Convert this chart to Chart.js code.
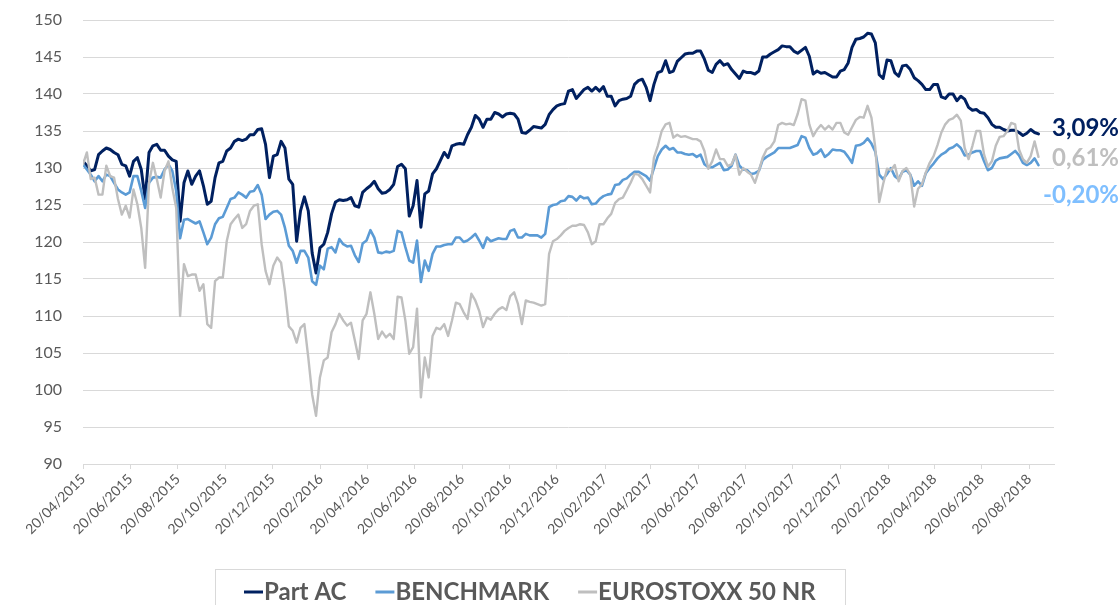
<!DOCTYPE html>
<html>
<head>
<meta charset="utf-8">
<script src="https://cdn.jsdelivr.net/npm/chart.js@4.4.1/dist/chart.umd.min.js"></script>
<style>
  html, body { margin: 0; padding: 0; background: #ffffff; }
  #wrap { width: 1120px; height: 605px; position: relative; overflow: hidden; }
</style>
</head>
<body>
<div id="wrap"><canvas id="c" width="1120" height="605"></canvas></div>
<script>
// ---- data (one value every 5 days, starting 20/04/2015) ----
const startDate = '20/04/2015';
const stepDays = 5;

const seriesNames = ['Part AC', 'BENCHMARK', 'EUROSTOXX 50 NR'];

const partAC = [
  130.9, 130.3, 129.6, 129.8, 131.8, 132.3, 132.7, 132.5, 132.1, 131.8,
  130.5, 130.3, 128.9, 130.9, 131.4, 129.8, 125.8, 132.1, 133.0, 133.2,
  132.4, 132.4, 131.6, 131.1, 130.9, 122.8, 128.0, 129.6, 127.8, 128.9,
  129.6, 127.6, 125.1, 125.5, 128.7, 130.7, 130.9, 132.3, 132.7, 133.6,
  133.9, 133.7, 133.9, 134.5, 134.5, 135.2, 135.3, 133.2, 128.7, 131.6,
  131.8, 133.6, 132.7, 128.5, 127.8, 120.1, 124.2, 126.1, 124.2, 118.5,
  115.8, 119.2, 119.7, 121.3, 123.8, 125.4, 125.7, 125.6, 125.7, 126.0,
  124.9, 124.7, 126.7, 127.2, 127.6, 128.2, 127.2, 126.6, 126.7, 127.1,
  127.8, 130.2, 130.5, 129.9, 123.5, 124.9, 128.3, 122.0, 126.5, 126.9,
  129.2, 129.9, 131.0, 132.1, 131.4, 133.0, 133.2, 133.3, 133.2, 134.5,
  135.5, 137.1, 136.6, 135.5, 136.6, 136.6, 137.5, 137.3, 136.9, 137.3,
  137.4, 137.3, 136.6, 134.8, 134.7, 135.1, 135.6, 135.5, 135.4, 135.9,
  137.2, 137.9, 138.4, 138.6, 138.7, 140.4, 140.6, 139.4, 140.0, 140.6,
  140.9, 140.4, 140.9, 140.4, 141.0, 139.7, 139.7, 138.4, 139.1, 139.3,
  139.4, 139.7, 141.3, 141.8, 142.0, 140.9, 139.1, 141.3, 142.9, 143.1,
  144.5, 142.9, 143.1, 144.4, 144.9, 145.4, 145.5, 145.5, 145.8, 145.8,
  144.7, 143.2, 142.9, 144.0, 144.5, 143.9, 144.1, 143.3, 142.7, 142.1,
  143.1, 142.9, 142.9, 142.7, 143.1, 145.0, 145.0, 145.4, 145.7, 146.0,
  146.5, 146.4, 146.4, 145.8, 145.5, 145.9, 146.3, 145.1, 142.7, 143.1,
  142.8, 142.9, 142.6, 142.3, 142.3, 143.1, 143.3, 144.2, 146.3, 147.4,
  147.5, 147.7, 148.2, 148.1, 146.9, 142.6, 142.1, 144.6, 144.5, 142.9,
  142.4, 143.8, 143.9, 143.3, 142.2, 141.8, 141.3, 140.6, 140.6, 141.3,
  141.3, 139.6, 139.4, 140.0, 140.0, 139.1, 139.7, 139.3, 138.2, 137.8,
  137.9, 137.5, 137.4, 136.8, 135.9, 135.5, 135.5, 135.2, 135.0, 135.1,
  135.1, 134.8, 134.4, 134.7, 135.2, 134.8, 134.6
];

const benchmark = [
  130.5, 129.8, 129.1, 128.2, 128.9, 128.2, 129.1, 128.9, 128.0, 127.1,
  126.7, 126.4, 126.7, 128.9, 128.9, 126.9, 124.6, 128.0, 128.7, 128.8,
  128.7, 129.8, 130.5, 129.6, 126.9, 120.5, 123.0, 123.1, 122.8, 122.5,
  122.8, 121.3, 119.7, 120.6, 122.4, 123.2, 123.4, 124.6, 125.8, 126.0,
  126.7, 126.4, 126.0, 126.8, 126.9, 127.7, 126.4, 123.1, 123.7, 124.1,
  124.2, 123.7, 121.9, 119.5, 118.8, 117.2, 118.8, 118.8, 117.9, 114.7,
  114.2, 116.8, 116.3, 119.1, 119.3, 118.6, 120.4, 119.7, 119.4, 119.5,
  118.2, 117.3, 119.8, 120.2, 121.6, 120.6, 118.6, 118.5, 118.7, 118.6,
  118.8, 121.5, 121.3, 119.3, 117.5, 117.2, 120.2, 114.6, 117.5, 116.1,
  118.4, 119.4, 119.4, 119.6, 119.7, 119.7, 120.6, 120.6, 120.0, 120.2,
  120.6, 121.1, 120.2, 119.2, 120.6, 120.1, 120.3, 120.5, 120.4, 120.4,
  121.5, 121.7, 120.6, 120.6, 121.1, 120.9, 120.9, 120.9, 120.6, 121.1,
  124.7, 125.0, 125.1, 125.5, 125.6, 126.2, 126.1, 125.6, 126.2, 125.9,
  126.0, 125.1, 125.2, 125.8, 126.2, 126.4, 126.5, 127.7, 127.8, 128.4,
  128.6, 129.1, 129.5, 129.5, 129.2, 128.9, 128.3, 130.0, 131.6, 132.5,
  133.0, 132.5, 132.7, 132.1, 132.1, 131.9, 131.8, 131.9, 131.5, 131.8,
  130.5, 130.1, 130.1, 130.4, 130.7, 129.7, 129.8, 130.3, 131.8, 130.3,
  129.8, 129.7, 129.2, 129.3, 129.6, 131.1, 131.5, 131.8, 132.1, 132.7,
  132.7, 132.7, 132.7, 132.9, 133.1, 134.3, 134.1, 132.7, 131.8, 132.0,
  132.5, 131.5, 131.9, 132.5, 132.4, 132.4, 132.2, 131.5, 130.7, 133.0,
  133.1, 133.4, 134.0, 133.3, 132.2, 129.1, 128.5, 129.2, 130.0, 128.9,
  128.5, 129.5, 129.7, 129.1, 127.6, 128.2, 127.6, 129.3, 130.0, 130.6,
  131.3, 131.8, 132.1, 132.6, 132.8, 133.2, 132.7, 131.7, 131.8, 132.1,
  132.3, 132.3, 130.9, 129.7, 130.0, 131.0, 131.3, 131.4, 131.5, 131.9,
  132.3, 131.7, 130.7, 130.4, 130.7, 131.3, 130.4
];

const eurostoxx = [
  130.5, 132.1, 128.5, 128.7, 126.4, 126.4, 130.3, 128.9, 128.7, 125.8,
  123.7, 124.9, 123.3, 127.1, 125.1, 121.9, 116.5, 128.0, 130.7, 128.5,
  126.0, 129.6, 130.9, 127.3, 124.6, 110.0, 117.0, 115.4, 115.6, 115.6,
  113.4, 114.3, 108.9, 108.4, 114.7, 115.2, 115.2, 120.1, 122.4, 123.1,
  123.7, 121.9, 122.4, 124.2, 124.9, 125.1, 119.7, 116.1, 114.3, 116.8,
  117.9, 117.2, 113.4, 108.6, 108.0, 106.4, 108.4, 108.9, 104.4, 99.4,
  96.5, 101.7, 104.0, 104.4, 107.8, 108.9, 110.3, 109.4, 108.7, 109.1,
  106.7, 104.2, 109.4, 110.3, 113.2, 110.3, 106.9, 107.9, 107.1, 107.6,
  106.9, 112.6, 112.5, 109.4, 104.9, 105.8, 111.0, 99.0, 104.4, 101.7,
  107.3, 108.4, 108.2, 108.9, 107.3, 109.4, 111.8, 111.6, 110.5, 109.6,
  113.0, 112.1, 110.7, 108.5, 109.8, 109.5, 110.3, 110.9, 111.2, 110.8,
  112.7, 113.2, 111.6, 108.9, 112.1, 111.9, 111.8, 111.6, 111.4, 111.6,
  118.4, 120.1, 120.4, 120.9, 121.5, 121.9, 122.2, 122.2, 122.4, 122.3,
  121.3, 119.7, 120.1, 122.4, 122.4, 123.2, 123.8, 125.3, 125.8, 126.0,
  127.0, 128.0, 129.2, 129.1, 128.5, 127.6, 126.7, 131.4, 133.0, 135.0,
  135.9, 136.1, 134.1, 134.5, 134.2, 134.3, 134.1, 133.9, 133.9, 133.6,
  132.3, 129.9, 130.9, 132.5, 131.2, 131.2, 130.3, 130.5, 131.8, 129.1,
  130.0, 129.5, 129.1, 128.0, 129.6, 131.4, 132.5, 132.8, 133.6, 135.8,
  136.1, 135.9, 136.0, 135.8, 137.3, 139.3, 139.1, 135.9, 134.3, 135.2,
  135.8, 135.2, 135.7, 135.2, 136.1, 136.1, 134.8, 134.5, 135.5, 136.5,
  136.9, 136.8, 138.4, 136.8, 132.7, 125.4, 127.8, 129.9, 129.7, 130.4,
  128.2, 129.6, 130.0, 129.1, 124.8, 127.2, 127.8, 129.4, 130.7, 131.6,
  133.1, 134.8, 135.9, 136.5, 136.7, 137.2, 136.4, 132.7, 131.2, 133.0,
  135.0, 135.0, 131.8, 130.2, 130.9, 133.0, 134.2, 134.3, 135.0, 136.1,
  135.9, 132.5, 131.2, 130.7, 131.6, 133.6, 131.5
];

const endLabels = ['3,09%', '-0,20%', '0,61%'];

const xTickLabels = [
  '20/04/2015', '20/06/2015', '20/08/2015', '20/10/2015', '20/12/2015',
  '20/02/2016', '20/04/2016', '20/06/2016', '20/08/2016', '20/10/2016',
  '20/12/2016', '20/02/2017', '20/04/2017', '20/06/2017', '20/08/2017',
  '20/10/2017', '20/12/2017', '20/02/2018', '20/04/2018', '20/06/2018',
  '20/08/2018'
];
const xAxisEnd = '21/09/2018';

const yMin = 90, yMax = 150, yStep = 5;

// ---- helpers ----
function toUTC(s) {
  const p = s.split('/');
  return Date.UTC(+p[2], +p[1] - 1, +p[0]);
}
function dayOffset(s) {
  return Math.round((toUTC(s) - toUTC(startDate)) / 86400000);
}
const tickDays = xTickLabels.map(dayOffset);
const labelByDay = {};
xTickLabels.forEach((l, i) => { labelByDay[tickDays[i]] = l; });

function toPoints(arr) {
  return arr.map((v, i) => ({ x: i * stepDays, y: v }));
}

const colors = {
  line: ['#002060', '#5b9bd5', '#bfbfbf'],
  label: ['#002060', '#7fbfff', '#bfbfbf']
};
const TEXT = '#595959';
const GRID = '#d9d9d9';
const FONT = 'Lato, "Open Sans", "DejaVu Sans", sans-serif';

// end-of-line labels
const endLabelPlugin = {
  id: 'endLabels',
  afterDatasetsDraw(chart) {
    const ctx = chart.ctx;
    const dy = [-6, 30, 1];
    ctx.save();
    ctx.font = 'bold 24px ' + FONT;
    ctx.textAlign = 'right';
    ctx.textBaseline = 'middle';
    chart.data.datasets.forEach((ds, i) => {
      const meta = chart.getDatasetMeta(i);
      const last = meta.data[meta.data.length - 1];
      ctx.fillStyle = colors.label[i];
      ctx.fillText(endLabels[i], chart.width - 1, last.y + dy[i]);
    });
    ctx.restore();
  }
};

// bottom legend with border box
const legendPlugin = {
  id: 'boxLegend',
  afterDraw(chart) {
    const ctx = chart.ctx;
    ctx.save();
    ctx.strokeStyle = GRID;
    ctx.lineWidth = 1;
    ctx.strokeRect(215.5, 569.5, 630, 60);
    ctx.font = 'bold 24px ' + FONT;
    ctx.textBaseline = 'middle';
    ctx.textAlign = 'left';
    let x = 244;
    const y = 592;
    chart.data.datasets.forEach((ds, i) => {
      ctx.strokeStyle = ds.borderColor;
      ctx.lineWidth = 3;
      ctx.beginPath();
      ctx.moveTo(x, y);
      ctx.lineTo(x + 19, y);
      ctx.stroke();
      ctx.fillStyle = TEXT;
      ctx.fillText(ds.label, x + 20, y);
      x += 20 + ctx.measureText(ds.label).width + 29;
    });
    ctx.restore();
  }
};

new Chart(document.getElementById('c'), {
  type: 'line',
  data: {
    datasets: [
      { label: seriesNames[0], data: toPoints(partAC), borderColor: colors.line[0], borderWidth: 3, order: 3 },
      { label: seriesNames[1], data: toPoints(benchmark), borderColor: colors.line[1], borderWidth: 2.6, order: 2 },
      { label: seriesNames[2], data: toPoints(eurostoxx), borderColor: colors.line[2], borderWidth: 2.4, order: 1 }
    ]
  },
  options: {
    responsive: false,
    animation: false,
    devicePixelRatio: 1,
    layout: { padding: { top: 20, right: 66, left: 0, bottom: 0 } },
    elements: {
      point: { radius: 0, hoverRadius: 0 },
      line: { tension: 0, borderJoinStyle: 'round', borderCapStyle: 'round', fill: false }
    },
    plugins: {
      legend: { display: false },
      tooltip: { enabled: false }
    },
    scales: {
      x: {
        type: 'linear',
        min: 0,
        max: dayOffset(xAxisEnd),
        afterBuildTicks(s) { s.ticks = tickDays.map(v => ({ value: v })); },
        afterFit(s) { s.height = 141; },
        ticks: {
          autoSkip: false,
          minRotation: 45,
          maxRotation: 45,
          padding: 2,
          color: TEXT,
          font: { family: FONT, size: 14 },
          callback: (v) => labelByDay[v] || ''
        },
        grid: { drawOnChartArea: false, drawTicks: true, tickLength: 5, color: GRID },
        border: { display: true, color: GRID }
      },
      y: {
        min: yMin,
        max: yMax,
        afterFit(s) { s.width = 83; s.paddingTop = 0; s.paddingBottom = 0; },
        ticks: {
          stepSize: yStep,
          padding: 21,
          color: TEXT,
          font: { family: FONT, size: 16 }
        },
        grid: { color: GRID, drawTicks: false },
        border: { display: false }
      }
    }
  },
  plugins: [endLabelPlugin, legendPlugin]
});
</script>
</body>
</html>
